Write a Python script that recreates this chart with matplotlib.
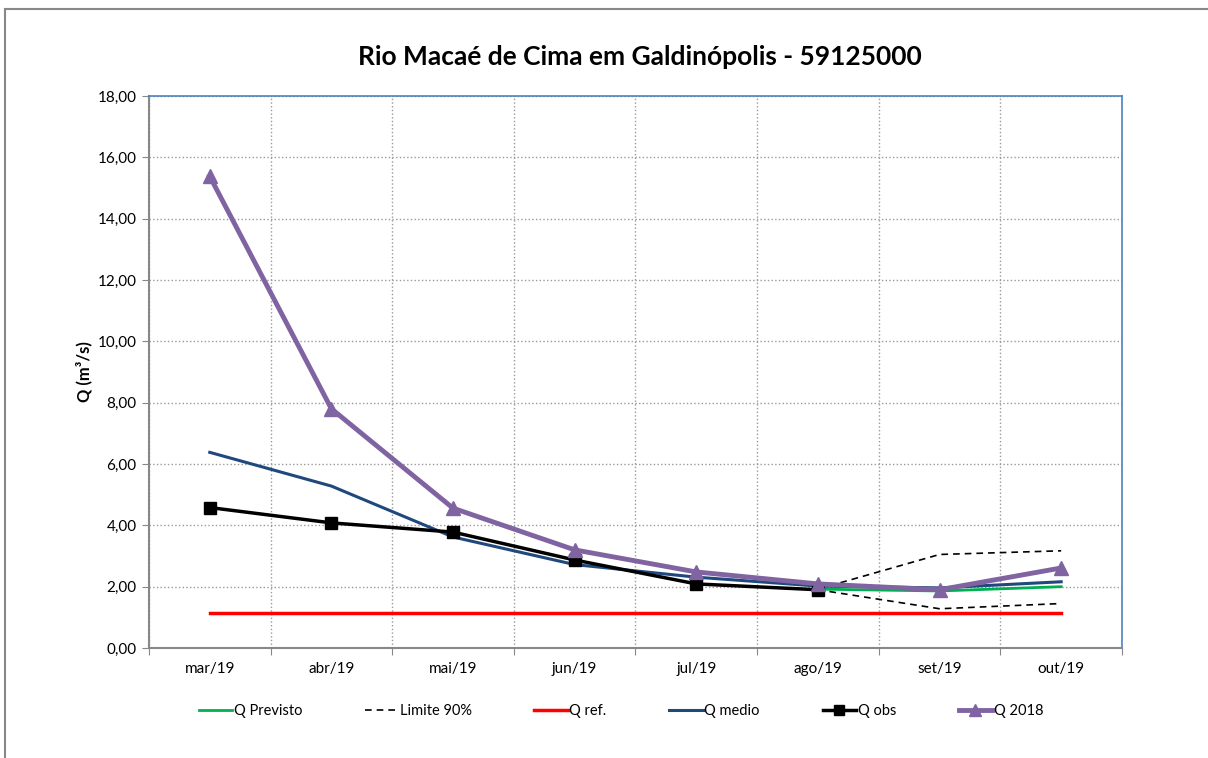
import numpy as np
import matplotlib.pyplot as plt

plt.rcParams['font.family'] = ['Lato', 'DejaVu Sans']

meses = ['mar/19', 'abr/19', 'mai/19', 'jun/19', 'jul/19', 'ago/19', 'set/19', 'out/19']
nan = np.nan
q_previsto = [nan, nan, nan, nan, nan, 1.92, 1.86, 2.00]
lim_sup = [nan, nan, nan, nan, nan, 1.92, 3.05, 3.17]
lim_inf = [nan, nan, nan, nan, nan, 1.90, 1.28, 1.45]
q_ref = [1.15] * 8
q_medio = [6.38, 5.28, 3.62, 2.72, 2.31, 2.02, 1.96, 2.16]
q_obs = [4.58, 4.08, 3.78, 2.87, 2.09, 1.90, nan, nan]
q_2018 = [15.38, 7.80, 4.56, 3.20, 2.48, 2.09, 1.90, 2.61]

x = np.arange(len(meses))

fig = plt.figure(figsize=(12.08, 7.58), dpi=100)
ax = fig.add_axes([0.1233, 0.1451, 0.8055, 0.7283])

# moldura externa (estilo Excel)
fig.add_artist(plt.Line2D([0.004, 0.004], [0, 0.988], color='#888888', lw=1.5, transform=fig.transFigure))
fig.add_artist(plt.Line2D([0.004, 1], [0.988, 0.988], color='#888888', lw=1.5, transform=fig.transFigure))

ax.plot(x, q_previsto, color='#00b050', lw=2, label='Q Previsto')
ax.plot(x, lim_sup, color='black', lw=1.2, ls=(0, (4, 3)), label='Limite 90%')
ax.plot(x, lim_inf, color='black', lw=1.2, ls=(0, (4, 3)))
ax.plot(x, q_ref, color='#ff0000', lw=2.5, label='Q ref.')
ax.plot(x, q_medio, color='#1f497d', lw=2.2, label='Q medio')
ax.plot(x, q_obs, color='black', lw=2.5, marker='s', ms=9, label='Q obs')
ax.plot(x, q_2018, color='#8064a2', lw=3.5, marker='^', ms=10, label='Q 2018')

ax.set_xlim(-0.5, 7.5)
ax.set_ylim(0, 18)
ax.set_yticks(np.arange(0, 19, 2))
ax.set_yticklabels([f'{v:.2f}'.replace('.', ',') for v in np.arange(0, 19, 2)])
ax.set_xticks(np.arange(-0.5, 8, 1))
ax.set_xticklabels([])
ax.set_xticks(x, minor=True)
ax.set_xticklabels(meses, minor=True)
ax.tick_params(axis='x', which='minor', length=0, pad=10, labelsize=11)
ax.tick_params(axis='x', which='major', length=5, color='#888888')
ax.tick_params(axis='y', length=5, color='#888888', labelsize=11, pad=4)

ax.grid(True, which='major', color='#999999', ls=':', lw=1)
ax.set_axisbelow(True)
for s in ['left', 'bottom']:
    ax.spines[s].set_color('#888888')
    ax.spines[s].set_linewidth(1.5)
for s in ['top', 'right']:
    ax.spines[s].set_color('#4f81bd')
    ax.spines[s].set_linewidth(1.2)

ax.set_ylabel('Q (m³/s)', fontsize=12, fontweight='bold', labelpad=4)
fig.suptitle('Rio Macaé de Cima em Galdinópolis - 59125000', fontsize=19, fontweight='bold',
             x=0.53, y=0.94)

ax.legend(loc='upper center', bbox_to_anchor=(0.485, -0.078), ncol=6, frameon=False,
          fontsize=10.5, handlelength=2.3, handletextpad=0.1, columnspacing=4.3,
          markerscale=0.8)

fig.savefig('out.png', dpi=100)
